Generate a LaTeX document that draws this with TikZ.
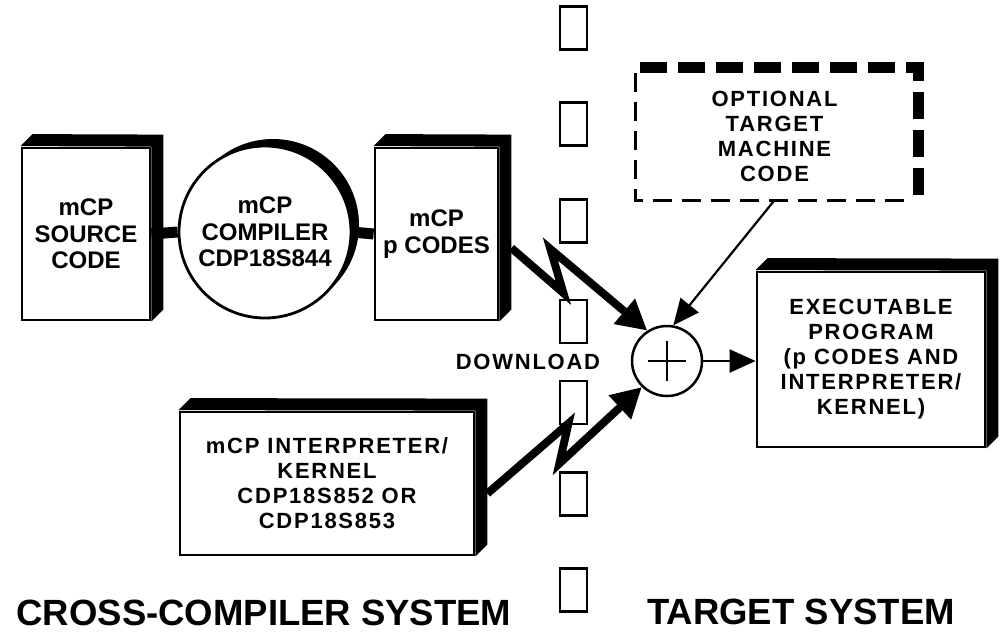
\documentclass[tikz,border=0pt]{standalone}
\usepackage{fontspec}
\setmainfont{Liberation Sans}
\newfontfamily\trkfont[LetterSpace=8]{Liberation Sans}
\usetikzlibrary{arrows.meta,calc}
\newcommand\bigtxt{\fontsize{24}{26.5}\selectfont\bfseries}
\newcommand\smalltxt{\trkfont\fontsize{22}{25}\selectfont\bfseries}
\newcommand\hugetxt{\fontsize{36.5}{40}\selectfont\bfseries}
\newcommand\bandof[2]{%
  \fill ($(#1.north west)+(0,-0.5)$) -- ++(#2,-#2) -- ($(#1.north east)+(#2,-#2)$)
    -- ($(#1.south east)+(#2,-#2)$) -- (#1.south east) -- (#1.north east) -- cycle;}
\begin{document}
\begin{tikzpicture}[x=1pt,y=-1pt,
  front/.style={draw, line width=2.8pt, fill=white, inner sep=0pt, align=center},
  sepbox/.style={draw, line width=2.3pt, minimum width=27pt, minimum height=43pt, inner sep=0pt},
  bolt/.style={line width=8pt, line join=miter, miter limit=4, -{Triangle[length=30pt,width=31pt]}},
  thinarrow/.style={line width=2.2pt, -{Triangle[length=26pt,width=23pt]}},
  link/.style={line width=11pt}]
\useasboundingbox (0,0) rectangle (1001,634);

% separator column
\foreach \yy [count=\i] in {28,124,221,321.5,402.5,494,590}
  \node[sepbox] (sep\i) at (573.5,\yy) {};

% cross-compiler side
\node[front, minimum width=128pt, minimum height=172pt, font=\bigtxt] (src) at (86,234) {mCP\\SOURCE\\CODE};
\bandof{src}{12}
\fill (273,225) circle (86pt);
\node[front, circle, minimum size=172pt, font=\bigtxt] (comp) at (265,232) {mCP\\COMPILER\\CDP18S844};
\node[front, minimum width=123pt, minimum height=172pt, font=\bigtxt] (pc) at (436.5,234) {mCP\\p CODES};
\bandof{pc}{12}
\draw[link] (src.east) -- (comp.west);
\draw[link] (comp.east) -- (pc.west);

\node[front, minimum width=294pt, minimum height=143pt, font=\smalltxt] (ib) at (327,483.5)
  {mCP INTERPRETER/\\KERNEL\\CDP18S852 OR\\CDP18S853};
\bandof{ib}{12}

\node[font=\smalltxt] (dl) at (528,362) {DOWNLOAD};

% target side
\node[draw=none, minimum width=277pt, minimum height=127pt, inner sep=0pt, align=center, font=\smalltxt] (opt) at (774.5,136.5)
  {OPTIONAL\\TARGET\\MACHINE\\CODE};
\draw[line width=2.8pt, dash pattern=on 19pt off 10pt] (opt.north west) -- (opt.south west) -- (opt.south east);
\draw[line width=11pt, dash pattern=on 27pt off 11pt] ($(opt.north west)+(4,-5.5)$) -- ($(opt.north east)+(5.5,-5.5)$) -- ($(opt.south east)+(5.5,-3)$);

\node[draw, circle, line width=2.5pt, minimum size=70pt, inner sep=0pt] (plus) at (667,361) {};
\draw[line width=2.5pt] ($(plus.center)+(-19,0)$) -- ($(plus.center)+(19,0)$)
  ($(plus.center)+(0,-20)$) -- ($(plus.center)+(0,20)$);

\node[front, minimum width=228pt, minimum height=175pt, font=\smalltxt] (exec) at (871,359.5)
  {EXECUTABLE\\PROGRAM\\(p CODES AND\\INTERPRETER/\\KERNEL)};
\bandof{exec}{12}

% connectors
\draw[bolt] ([shift={(12,14)}]pc.east) -- ++(52,45) -- ++(-13,-44) -- (plus.123);
\draw[bolt] ([shift={(12,10)}]ib.east) -- ++(81,-70) -- ++(-9,40) -- (plus.226);
\draw[thinarrow] (opt.south) -- (plus.80);
\draw[thinarrow] (plus.east) -- (plus.east -| exec.west);

% captions
\node[font=\hugetxt] (cap1) at (264,613) {CROSS-COMPILER SYSTEM};
\node[font=\hugetxt] (cap2) at (801,612) {TARGET SYSTEM};
\end{tikzpicture}
\end{document}
